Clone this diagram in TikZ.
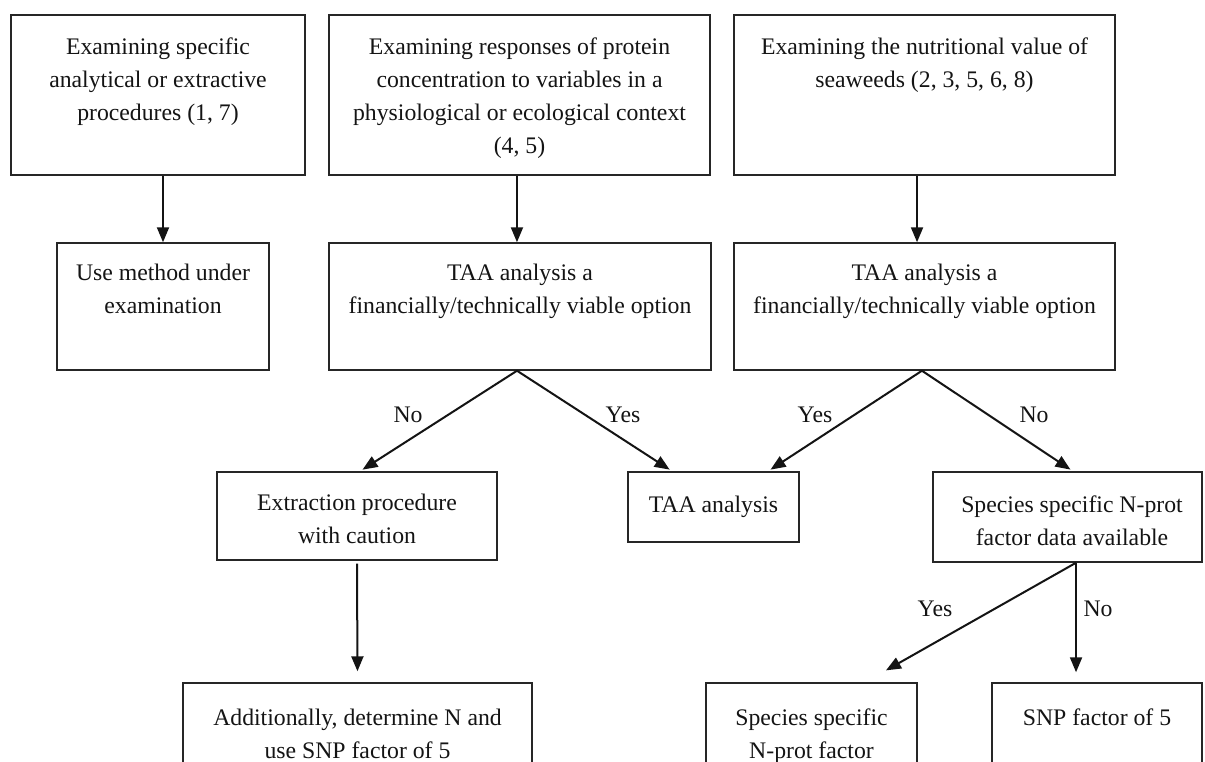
\documentclass[tikz,border=0pt]{standalone}
\usepackage{fontspec}
\setmainfont{Liberation Serif}
\usetikzlibrary{arrows.meta}

\begin{document}
\begin{tikzpicture}[x=0.75pt,y=0.75pt,yscale=-1,xscale=1,
  box/.style={draw=black!85,line width=1.1pt,inner sep=0pt},
  txt/.style={anchor=north,inner sep=0pt,align=center,text=black!92,font=\fontsize{17.8}{24.75}\selectfont},
  lbl/.style={inner sep=0pt,text=black!92,font=\fontsize{17.8}{24.75}\selectfont},
  arr/.style={draw=black!92,line width=1.5pt,-{Triangle[length=11.25pt,width=9pt]}}]

\clip (0,0) rectangle (1205,762);
\fill[white] (0,0) rectangle (1205,762);

% first row
\node[box,minimum width=220.5pt,minimum height=120pt] (examMethod) at (158,95) {};
\node[box,minimum width=285.75pt,minimum height=120pt] (examProtein) at (519.5,95) {};
\node[box,minimum width=285.75pt,minimum height=120pt] (examNutri) at (924.5,95) {};

\node[txt] (examMethodT) at (158,38) {Examining specific\\analytical or extractive\\procedures (1, 7)};
\node[txt] (examProteinT) at (519.5,38) {Examining responses of protein\\concentration to variables in a\\physiological or ecological context\\(4, 5)};
\node[txt] (examNutriT) at (924.5,38) {Examining the nutritional value of\\seaweeds (2, 3, 5, 6, 8)};

% second row
\node[box,minimum width=159pt,minimum height=95.25pt] (useMethod) at (163,306.5) {};
\node[box,minimum width=286.5pt,minimum height=95.25pt] (taaOptA) at (520,306.5) {};
\node[box,minimum width=285.75pt,minimum height=95.25pt] (taaOptB) at (924.5,306.5) {};

\node[txt] (useMethodT) at (163,264) {Use method under\\examination};
\node[txt] (taaOptAT) at (520,264) {TAA analysis a\\financially/technically viable option};
\node[txt] (taaOptBT) at (924.5,264) {TAA analysis a\\financially/technically viable option};

% third row
\node[box,minimum width=210pt,minimum height=66pt] (extract) at (357,516) {};
\node[box,minimum width=128.25pt,minimum height=52.5pt] (taa) at (713.5,507) {};
\node[box,minimum width=201.75pt,minimum height=67.5pt] (specData) at (1067.5,517) {};

\node[txt] (extractT) at (357,494) {Extraction procedure\\with caution};
\node[txt] (taaT) at (713.5,496) {TAA analysis};
\node[txt] (specDataT) at (1072,496) {Species specific N-prot\\factor data available};

% fourth row
\node[box,minimum width=261.75pt,minimum height=90pt] (addN) at (357.5,743) {};
\node[box,minimum width=158.25pt,minimum height=90pt] (specFactor) at (811.5,743) {};
\node[box,minimum width=157.5pt,minimum height=90pt] (snp) at (1097,743) {};

\node[txt] (addNT) at (357.5,709) {Additionally, determine N and\\use SNP factor of 5};
\node[txt] (specFactorT) at (811.5,709) {Species specific\\N-prot factor};
\node[txt] (snpT) at (1097,709) {SNP factor of 5};

% fork points
\coordinate (forkA) at ([xshift=-2.25pt]taaOptA.south);
\coordinate (forkB) at ([xshift=-1.9pt]taaOptB.south);
\coordinate (forkC) at ([xshift=6.4pt]specData.south);

% arrows
\draw[arr] (useMethod.north |- examMethod.south) -- (useMethod.north);
\draw[arr] ([xshift=-1.9pt]examProtein.south) -- ([xshift=-1.9pt]examProtein.south |- taaOptA.north);
\draw[arr] ([xshift=-5.6pt]examNutri.south) -- ([xshift=-5.6pt]taaOptB.north);

\draw[arr,shorten >=2.25pt] (forkA) -- ([xshift=2.25pt]extract.north);
\draw[arr,shorten >=2.25pt] (forkA) -- ([xshift=-31pt]taa.north);
\draw[arr,shorten >=2.25pt] (forkB) -- ([xshift=40.9pt]taa.north);
\draw[arr,shorten >=2.25pt] (forkB) -- ([xshift=4.1pt]specData.north);

\draw[arr,shorten <=2.25pt,shorten >=8.25pt] (extract.south) -- (addN.north);
\draw[arr,shorten >=18.1pt] (forkC) -- ([xshift=40.1pt]specFactor.north);
\draw[arr,shorten >=7.5pt] (forkC) -- (forkC |- snp.north);

% labels
\node[lbl] (noA) at (408,415) {No};
\node[lbl] (yesA) at (623,415) {Yes};
\node[lbl] (yesB) at (815,415) {Yes};
\node[lbl] (noB) at (1034,415) {No};
\node[lbl] (yesC) at (935,609) {Yes};
\node[lbl] (noC) at (1098,609) {No};

\end{tikzpicture}
\end{document}
